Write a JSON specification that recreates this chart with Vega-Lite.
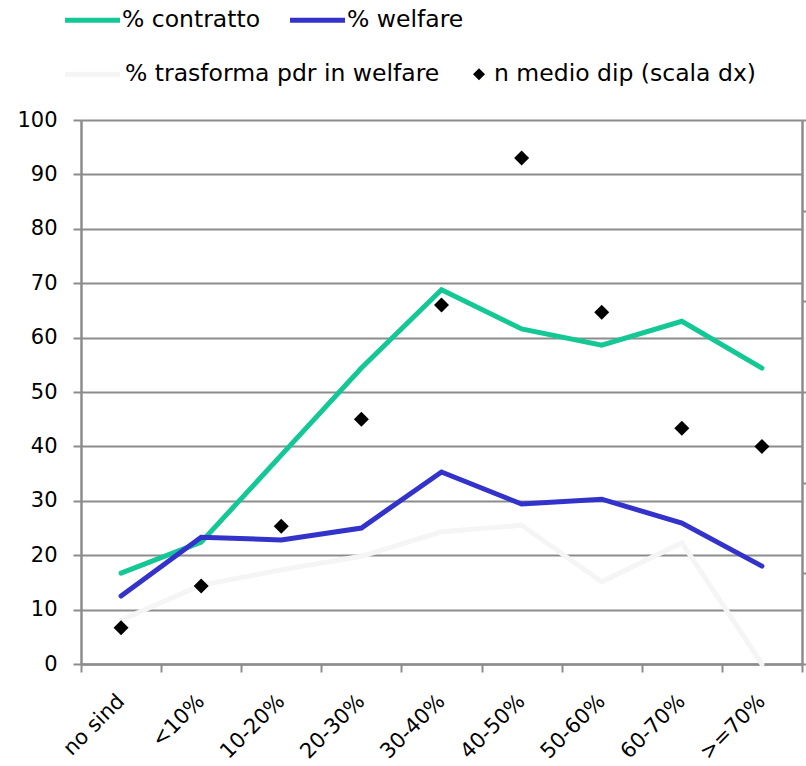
{
  "$schema": "https://vega.github.io/schema/vega-lite/v6.json",
  "width": 721,
  "height": 544,
  "autosize": {"type": "none"},
  "padding": {"left": 81, "top": 120, "right": 4, "bottom": 102},
  "background": "white",
  "config": {
    "font": "DejaVu Sans",
    "view": {"stroke": null}
  },
  "datasets": {
    "lines": [
      {"cat": "no sind", "series": "% trasforma pdr in welfare", "key": "% trasforma pdr in welfare", "value": 8.1},
      {"cat": "<10%", "series": "% trasforma pdr in welfare", "key": "% trasforma pdr in welfare", "value": 14.5},
      {"cat": "10-20%", "series": "% trasforma pdr in welfare", "key": "% trasforma pdr in welfare", "value": 17.3},
      {"cat": "20-30%", "series": "% trasforma pdr in welfare", "key": "% trasforma pdr in welfare", "value": 19.8},
      {"cat": "30-40%", "series": "% trasforma pdr in welfare", "key": "% trasforma pdr in welfare", "value": 24.3},
      {"cat": "40-50%", "series": "% trasforma pdr in welfare", "key": "% trasforma pdr in welfare", "value": 25.5},
      {"cat": "50-60%", "series": "% trasforma pdr in welfare", "key": "% trasforma pdr in welfare", "value": 15.1},
      {"cat": "60-70%", "series": "% trasforma pdr in welfare", "key": "% trasforma pdr in welfare", "value": 22.3},
      {"cat": ">=70%", "series": "% trasforma pdr in welfare", "key": "% trasforma pdr in welfare", "value": 0},
      {"cat": "no sind", "series": "% contratto", "key": "% contratto", "value": 16.7},
      {"cat": "<10%", "series": "% contratto", "key": "% contratto", "value": 22.4},
      {"cat": "10-20%", "series": "% contratto", "key": "% contratto", "value": 38.4},
      {"cat": "20-30%", "series": "% contratto", "key": "% contratto", "value": 54.4},
      {"cat": "30-40%", "series": "% contratto", "key": "% contratto", "value": 68.8},
      {"cat": "40-50%", "series": "% contratto", "key": "% contratto", "value": 61.6},
      {"cat": "50-60%", "series": "% contratto", "key": "% contratto", "value": 58.6},
      {"cat": "60-70%", "series": "% contratto", "key": "% contratto", "value": 63.0},
      {"cat": ">=70%", "series": "% contratto", "key": "% contratto", "value": 54.4},
      {"cat": "no sind", "series": "% welfare", "key": "% welfare", "value": 12.5},
      {"cat": "<10%", "series": "% welfare", "key": "% welfare", "value": 23.3},
      {"cat": "10-20%", "series": "% welfare", "key": "% welfare", "value": 22.8},
      {"cat": "20-30%", "series": "% welfare", "key": "% welfare", "value": 25.0},
      {"cat": "30-40%", "series": "% welfare", "key": "% welfare", "value": 35.3},
      {"cat": "40-50%", "series": "% welfare", "key": "% welfare", "value": 29.4},
      {"cat": "50-60%", "series": "% welfare", "key": "% welfare", "value": 30.3},
      {"cat": "60-70%", "series": "% welfare", "key": "% welfare", "value": 25.9},
      {"cat": ">=70%", "series": "% welfare", "key": "% welfare", "value": 18.0}
    ],
    "dots": [
      {"cat": "no sind", "series": "n medio dip (scala dx)", "key": "n medio dip (scala dx)", "value": 20},
      {"cat": "<10%", "series": "n medio dip (scala dx)", "key": "n medio dip (scala dx)", "value": 43},
      {"cat": "10-20%", "series": "n medio dip (scala dx)", "key": "n medio dip (scala dx)", "value": 76},
      {"cat": "20-30%", "series": "n medio dip (scala dx)", "key": "n medio dip (scala dx)", "value": 135},
      {"cat": "30-40%", "series": "n medio dip (scala dx)", "key": "n medio dip (scala dx)", "value": 198},
      {"cat": "40-50%", "series": "n medio dip (scala dx)", "key": "n medio dip (scala dx)", "value": 279},
      {"cat": "50-60%", "series": "n medio dip (scala dx)", "key": "n medio dip (scala dx)", "value": 194},
      {"cat": "60-70%", "series": "n medio dip (scala dx)", "key": "n medio dip (scala dx)", "value": 130},
      {"cat": ">=70%", "series": "n medio dip (scala dx)", "key": "n medio dip (scala dx)", "value": 120}
    ]
  },
  "layer": [
    {
      "data": {"name": "lines"},
      "mark": {"type": "line", "strokeWidth": 5, "strokeCap": "round"},
      "encoding": {
        "x": {
          "field": "cat", "type": "nominal", "sort": null,
          "scale": {"type": "band", "paddingInner": 0, "paddingOuter": 0,
            "domain": ["no sind", "<10%", "10-20%", "20-30%", "30-40%", "40-50%", "50-60%", "60-70%", ">=70%"]},
          "axis": {
            "title": null, "labelAngle": -45, "labelFontSize": 21, "labelColor": "black",
            "domainColor": "#8c8c8c", "domainWidth": 2.5, "tickColor": "#8c8c8c", "tickWidth": 2,
            "tickSize": 8, "tickBand": "extent", "labelPadding": 18, "labelOffset": -8, "grid": false
          }
        },
        "y": {
          "field": "value", "type": "quantitative",
          "scale": {"domain": [0, 100], "nice": false, "zero": true},
          "axis": {
            "title": null, "values": [0, 10, 20, 30, 40, 50, 60, 70, 80, 90, 100],
            "labelFontSize": 21, "labelColor": "black", "labelPadding": 16,
            "domainColor": "#8c8c8c", "domainWidth": 2.5, "tickColor": "#8c8c8c", "tickWidth": 2, "tickSize": 8,
            "grid": true, "gridColor": "#8c8c8c", "gridWidth": 2
          }
        },
        "color": {
          "field": "series", "type": "nominal",
          "scale": {
            "domain": ["% contratto", "% welfare", "% trasforma pdr in welfare", "n medio dip (scala dx)"],
            "range": ["#14C896", "#3333CC", "#F5F5F5", "#000000"]
          },
          "legend": {
            "title": null, "orient": "none", "legendX": -16, "legendY": -130, "direction": "horizontal",
            "values": ["% contratto", "% welfare"],
            "columnPadding": 19,
            "labelFontSize": 23.5, "labelColor": "black", "labelLimit": 600,
            "symbolType": "stroke", "symbolSize": 3025, "symbolStrokeWidth": 5,
            "encode": {
              "symbols": {
                "update": {
                  "shape": {"value": "stroke"},
                  "size": {"value": 3025},
                  "x": {"value": 27.5},
                  "stroke": {"scale": "color", "field": "value"},
                  "strokeWidth": {"value": 5},
                  "fill": {"value": "transparent"},
                  "opacity": {"value": 1}
                }
              },
              "labels": {"update": {"x": {"value": 57}}}
            }
          }
        },
        "opacity": {
          "field": "key", "type": "ordinal",
          "scale": {"range": [1, 1]},
          "legend": {
            "title": null, "orient": "none", "legendX": -16, "legendY": -58, "direction": "horizontal",
            "values": ["% trasforma pdr in welfare", "n medio dip (scala dx)"],
            "columnPadding": 29,
            "labelFontSize": 23.5, "labelColor": "black", "labelLimit": 600,
            "symbolType": "stroke", "symbolSize": 3025, "symbolStrokeWidth": 5,
            "encode": {
              "symbols": {
                "update": {
                  "shape": {"signal": "datum.value === 'n medio dip (scala dx)' ? 'diamond' : 'stroke'"},
                  "size": {"signal": "datum.value === 'n medio dip (scala dx)' ? 144 : 3025"},
                  "x": {"signal": "datum.value === 'n medio dip (scala dx)' ? 10 : 27.5"},
                  "stroke": {"signal": "datum.value === 'n medio dip (scala dx)' ? 'black' : '#F5F5F5'"},
                  "strokeWidth": {"signal": "datum.value === 'n medio dip (scala dx)' ? 0 : 5"},
                  "fill": {"signal": "datum.value === 'n medio dip (scala dx)' ? 'black' : 'transparent'"},
                  "opacity": {"value": 1}
                }
              },
              "labels": {"update": {"x": {"signal": "datum.value === 'n medio dip (scala dx)' ? 25 : 60"}}}
            }
          }
        }
      }
    },
    {
      "data": {"name": "dots"},
      "mark": {"type": "point", "shape": "diamond", "filled": true, "size": 225},
      "encoding": {
        "x": {"field": "cat", "type": "nominal", "sort": null},
        "y": {
          "field": "value", "type": "quantitative",
          "scale": {"domain": [0, 300], "nice": false, "zero": true},
          "axis": {
            "title": null, "orient": "right", "labels": false, "grid": false,
            "values": [0, 50, 100, 150, 200, 250, 300],
            "domainColor": "#8c8c8c", "domainWidth": 2.5, "tickColor": "#8c8c8c", "tickWidth": 2, "tickSize": 6
          }
        },
        "color": {"field": "series", "type": "nominal"},
        "opacity": {"field": "key", "type": "ordinal"}
      }
    }
  ],
  "resolve": {"scale": {"y": "independent"}, "axis": {"y": "independent"}}
}
